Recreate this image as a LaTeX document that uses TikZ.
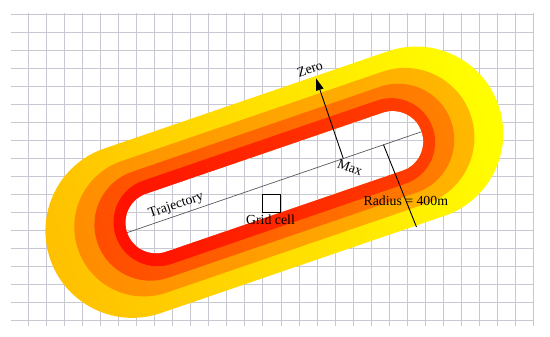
\documentclass[tikz,border=0pt]{standalone}
\usepackage{fontspec}
\setmainfont{Liberation Serif}
\usetikzlibrary{arrows.meta}
\definecolor{gridc}{RGB}{200,200,210}
\definecolor{cfourl}{RGB}{255,192,0}
\definecolor{cfourr}{RGB}{255,255,0}
\definecolor{cthreel}{RGB}{255,140,0}
\definecolor{cthreer}{RGB}{255,184,0}
\definecolor{ctwol}{RGB}{255,77,0}
\definecolor{ctwor}{RGB}{255,128,0}
\definecolor{conel}{RGB}{255,16,0}
\definecolor{coner}{RGB}{255,64,0}
\definecolor{trajc}{RGB}{90,90,90}
\tikzset{
  gridline/.style={draw=gridc, line width=0.85pt},
  lbl/.style={font=\fontsize{13.8}{16}\selectfont, text=black, inner sep=0pt},
  trajline/.style={draw=trajc, line width=0.7pt},
  blackline/.style={draw=black, line width=0.9pt},
  axisframe/.style={shift={(274.35,154.8)}, rotate=18.92}
}
\newcommand{\drawgridlines}{%
  \foreach \k in {0,...,17} {\draw[gridline] (11,322.7-18*\k) -- (533,322.7-18*\k);}
  \foreach \k in {0,...,28} {\draw[gridline] (28.4+18.04*\k,11) -- (28.4+18.04*\k,324.3);}
}
\begin{document}
\begin{tikzpicture}[x=1pt,y=1pt]
\useasboundingbox (0,0) rectangle (550,337);
\fill[white] (0,0) rectangle (550,337);
\drawgridlines
% coloured rings (stacked, outer first), shaded along the trajectory axis
\begin{scope}[transform canvas={shift={(274.35,154.8)}, rotate=18.92}]
  \foreach \L/\r/\cl/\cr in {150/87/cfourl/cfourr, 138/69.5/cthreel/cthreer, 131/56/ctwol/ctwor, 123.5/44/conel/coner} {
    \shade[left color=\cl, right color=\cr]
      (-\L,-\r) -- (\L,-\r) arc[start angle=-90, end angle=90, radius=\r]
      -- (-\L,\r) arc[start angle=90, end angle=270, radius=\r] -- cycle;
  }
\end{scope}
% inner free region with the grid visible
\fill[white, axisframe] (-125,-30.5) -- (125,-30.5) arc[start angle=-90, end angle=90, radius=30.5]
  -- (-125,30.5) arc[start angle=90, end angle=270, radius=30.5] -- cycle;
\begin{scope}
  \clip[axisframe] (-125,-30.5) -- (125,-30.5) arc[start angle=-90, end angle=90, radius=30.5]
    -- (-125,30.5) arc[start angle=90, end angle=270, radius=30.5] -- cycle;
  \drawgridlines
\end{scope}
% coordinates
\coordinate (T1) at (127,104.3);
\coordinate (T2) at (421.7,205.3);
\coordinate (A0) at (343.3,178.4);
\coordinate (A1) at (316,258.7);
\coordinate (R0) at (383.5,192.2);
\coordinate (R1) at (416.5,110);
% trajectory
\draw[trajline] (T1) -- (T2);
\node[lbl, rotate=18.92] (traj) at (176.2,131.2) {Trajectory};
% grid cell
\node[draw=black, line width=0.9pt, minimum size=18pt, inner sep=0pt] (cell) at (271.9,133.7) {};
\node[lbl] (celllbl) at (270.5,117.3) {Grid cell};
% zero / max arrow
\draw[blackline, -{Triangle[length=12pt, width=7.5pt]}] (A0) -- (A1);
\node[lbl, rotate=18.92] (zero) at (310,268) {Zero};
\node[lbl, rotate=-20] (max) at (350,169.8) {Max};
% radius
\node[lbl] (rad) at (405.8,136.7) {Radius = 400m};
\draw[blackline] (R0) -- (R1);
\end{tikzpicture}
\end{document}
